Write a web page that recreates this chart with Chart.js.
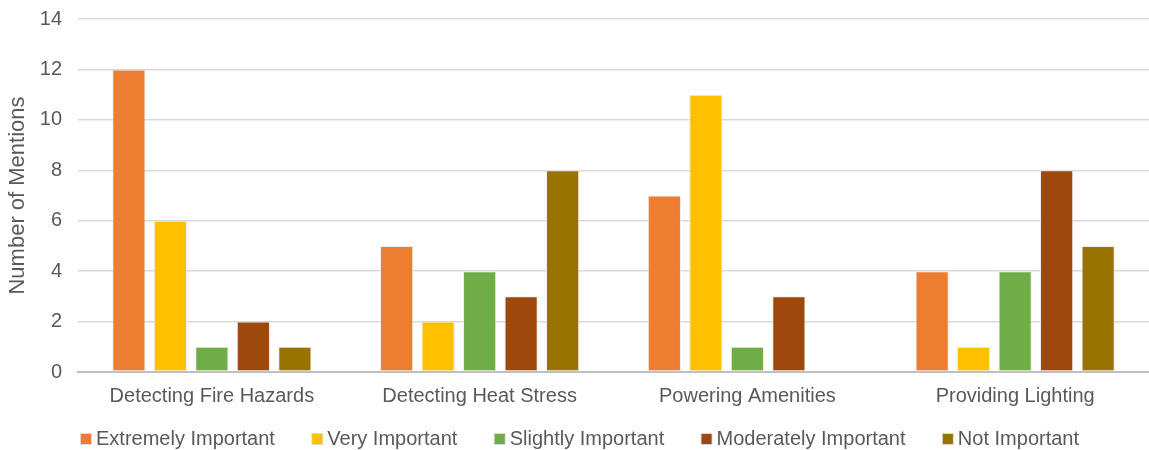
<!DOCTYPE html>
<html>
<head>
<meta charset="utf-8">
<script src="https://cdn.jsdelivr.net/npm/chart.js@4.4.1/dist/chart.umd.min.js"></script>
<style>
  html, body { margin: 0; padding: 0; background: #fff; }
  #wrap { width: 1149px; height: 450px; position: relative; }
</style>
</head>
<body>
<div id="wrap"><canvas id="c"></canvas></div>
<script>
const categories = ['Detecting Fire Hazards', 'Detecting Heat Stress', 'Powering Amenities', 'Providing Lighting'];
const extremelyImportant = [12, 5, 7, 4];
const veryImportant = [6, 2, 11, 1];
const slightlyImportant = [1, 4, 1, 4];
const moderatelyImportant = [2, 3, 3, 8];
const notImportant = [1, 8, 0, 5];
const yTicks = [0, 2, 4, 6, 8, 10, 12, 14];

const FONT = "'Liberation Sans', Arial, sans-serif";
const TEXT = '#595959';
const LEGEND_GAP = '      '; // extra room after each legend entry

function series(label, data, color) {
  return {
    label, data,
    backgroundColor: color,
    borderColor: 'rgba(235,235,235,0.9)',
    borderWidth: 1,
    borderSkipped: false,
    categoryPercentage: 0.775,
    barPercentage: 0.8
  };
}

new Chart(document.getElementById('c'), {
  type: 'bar',
  data: {
    labels: categories,
    datasets: [
      series('Extremely Important', extremelyImportant, '#ED7D31'),
      series('Very Important', veryImportant, '#FFC000'),
      series('Slightly Important', slightlyImportant, '#70AD47'),
      series('Moderately Important', moderatelyImportant, '#9E480E'),
      series('Not Important', notImportant, '#997300')
    ]
  },
  options: {
    responsive: true,
    maintainAspectRatio: false,
    animation: false,
    layout: { padding: { top: 19, right: 0, left: 16, bottom: -9 } },
    plugins: {
      tooltip: { enabled: false },
      legend: {
        position: 'bottom',
        labels: {
          font: { family: FONT, size: 20 },
          color: TEXT,
          usePointStyle: true,
          pointStyle: 'rect',
          boxWidth: 0.01,
          boxHeight: 11,
          padding: 9,
          generateLabels: (chart) => {
            const items = Chart.defaults.plugins.legend.labels.generateLabels(chart);
            items.forEach((it, i) => {
              if (i < items.length - 1) it.text = it.text + LEGEND_GAP;
              it.strokeStyle = 'rgba(220,220,220,0.9)';
              it.lineWidth = 1;
            });
            return items;
          }
        }
      }
    },
    scales: {
      x: {
        grid: { display: false, drawTicks: false },
        border: { color: '#bfbfbf', width: 2 },
        ticks: { font: { family: FONT, size: 20 }, color: TEXT, padding: 12 }
      },
      y: {
        min: 0, max: 14,
        afterBuildTicks: (s) => { s.ticks = yTicks.map(v => ({ value: v })); },
        afterFit: (s) => { s.width = 62; s.paddingTop = 0; s.paddingBottom = 0; },
        grid: { color: '#d9d9d9', lineWidth: 1.5, drawTicks: false },
        border: { display: false },
        ticks: { font: { family: FONT, size: 20 }, color: TEXT, padding: 16 },
        title: {
          display: true,
          text: 'Number of Mentions',
          font: { family: FONT, size: 22 },
          color: TEXT,
          padding: { top: -11, bottom: 6 }
        }
      }
    }
  }
});
</script>
</body>
</html>
